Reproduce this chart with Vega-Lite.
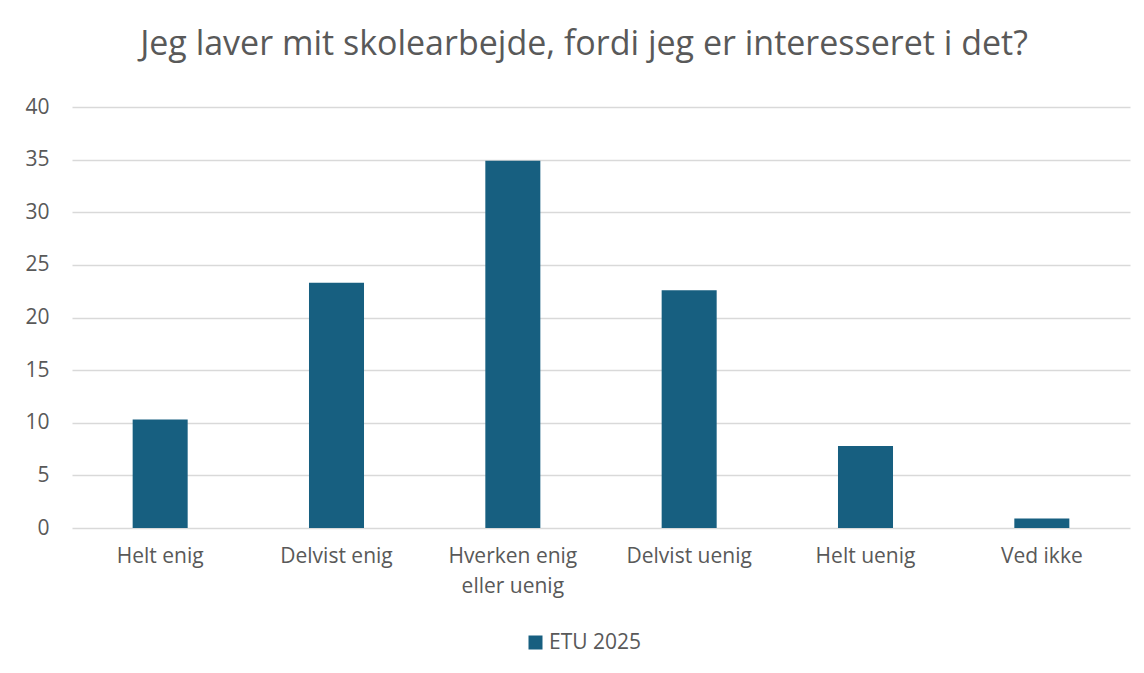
{
  "$schema": "https://vega.github.io/schema/vega-lite/v6.json",
  "autosize": {"type": "none"},
  "padding": {"left": 72, "top": 107, "right": 14, "bottom": 145},
  "width": 1058,
  "height": 421,
  "background": "white",
  "title": {
    "text": "Jeg laver mit skolearbejde, fordi jeg er interesseret i det?",
    "font": "Open Sans",
    "fontSize": 34,
    "fontWeight": "normal",
    "color": "#595959",
    "anchor": "middle",
    "frame": "group",
    "dx": -17,
    "offset": 34
  },
  "data": {
    "values": [
      {"kategori": "Helt enig", "serie": "ETU 2025", "procent": 10.3},
      {"kategori": "Delvist enig", "serie": "ETU 2025", "procent": 23.3},
      {"kategori": "Hverken enig eller uenig", "serie": "ETU 2025", "procent": 34.9},
      {"kategori": "Delvist uenig", "serie": "ETU 2025", "procent": 22.6},
      {"kategori": "Helt uenig", "serie": "ETU 2025", "procent": 7.8},
      {"kategori": "Ved ikke", "serie": "ETU 2025", "procent": 0.9}
    ]
  },
  "mark": {"type": "bar"},
  "encoding": {
    "x": {
      "field": "kategori",
      "type": "nominal",
      "sort": null,
      "scale": {"paddingInner": 0.688, "paddingOuter": 0.344},
      "axis": {
        "title": null,
        "labelAngle": 0,
        "domain": false,
        "ticks": false,
        "labelFont": "Open Sans",
        "labelFontSize": 21,
        "labelColor": "#595959",
        "labelPadding": 17,
        "labelLineHeight": 30,
        "labelExpr": "datum.label == 'Hverken enig eller uenig' ? ['Hverken enig', 'eller uenig'] : datum.label"
      }
    },
    "y": {
      "field": "procent",
      "type": "quantitative",
      "scale": {"domain": [0, 40]},
      "axis": {
        "title": null,
        "values": [0, 5, 10, 15, 20, 25, 30, 35, 40],
        "domain": false,
        "ticks": false,
        "labelFont": "Open Sans",
        "labelFontSize": 21,
        "labelColor": "#595959",
        "labelPadding": 23,
        "gridColor": "#D9D9D9",
        "gridWidth": 1.5
      }
    },
    "color": {
      "field": "serie",
      "type": "nominal",
      "scale": {"range": ["#175F80"]},
      "legend": {
        "title": null,
        "orient": "none",
        "legendX": 453,
        "legendY": 525,
        "symbolType": "square",
        "symbolSize": 196,
        "symbolStrokeWidth": 0,
        "labelFont": "Open Sans",
        "labelFontSize": 21,
        "labelColor": "#595959",
        "labelOffset": 3
      }
    }
  },
  "config": {
    "view": {"stroke": null}
  }
}
